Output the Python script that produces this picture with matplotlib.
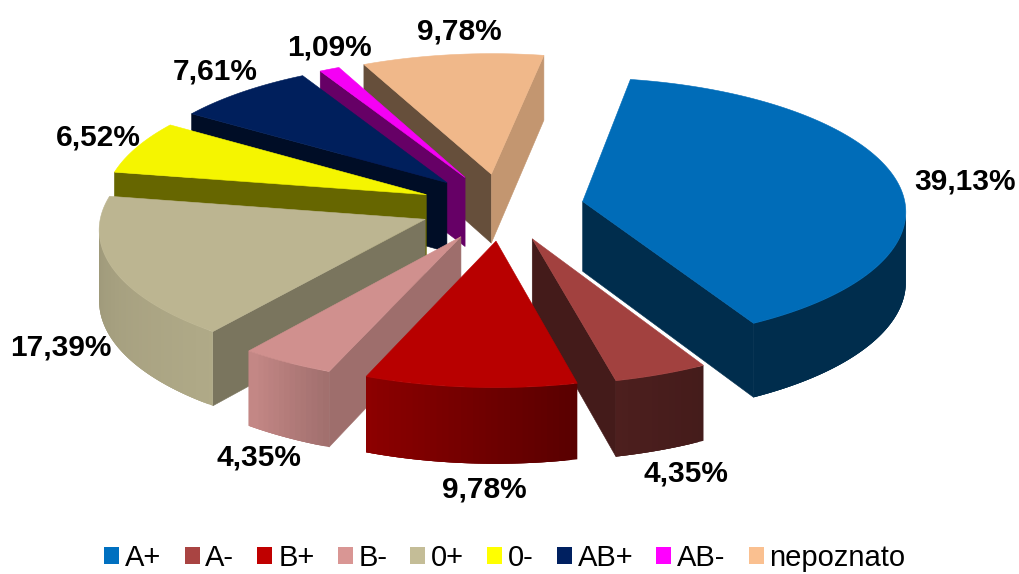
import numpy as np
import matplotlib
matplotlib.use("Agg")
import matplotlib.pyplot as plt
from matplotlib.patches import Patch, Polygon

# Data
groups = ['A+', 'A-', 'B+', 'B-', '0+', '0-', 'AB+', 'AB-', 'nepoznato']
shares = [39.13, 4.35, 9.78, 4.35, 17.39, 6.52, 7.61, 1.09, 9.78]
colors = ['#0070c0', '#a94442', '#c00000', '#d99694', '#c4bd97', '#ffff00', '#002060', '#ff00ff', '#fac090']

# Shading of the flat side faces (start edge, end edge) and of the rim, by angle
start_shade = [0.4, 0.4, 0.4, 0.73, 0.62, 0.4, 0.4, 0.4, 0.41]
end_shade = [0.4, 0.4, 0.4, 0.4, 0.4, 0.4, 0.4, 0.4, 0.78]
rim_angles = [0, 90, 150, 165, 200, 216, 240, 270, 360]
rim_shades = [0.78, 0.4, 0.4, 0.45, 0.72, 0.9, 0.86, 0.8, 0.78]

# Layout in pixels
cx, cy = 502, 207
radius = 323
explode = 82
tilt = 0.41
persp = 0.0002
depth = 70
first_angle = 10
draw_order = [8, 7, 6, 5, 4, 3, 0, 1, 2]
label_pos = [(965, 181), (686, 474), (484, 490), (259, 458), (61, 347),
             (98, 137), (215, 71), (329, 48), (459, 31)]

plt.rcParams['font.family'] = ['Liberation Sans', 'DejaVu Sans']


def project(x, y, down=0.0):
    w = 1 / (1 - persp * y)
    return np.column_stack((cx + x * w, cy + tilt * y * w + down * w))


def shaded(color, factor):
    rgb = np.array(matplotlib.colors.to_rgb(color))
    return tuple(rgb * factor)


def area(pts):
    x, y = pts[:, 0], pts[:, 1]
    return 0.5 * np.sum(x * np.roll(y, -1) - np.roll(x, -1) * y)


def add_quad(ax, pts, color, lw=0.4):
    ax.add_patch(Polygon(pts, closed=True, facecolor=color, edgecolor=color if lw else 'none', lw=lw))


fig = plt.figure(figsize=(10.19, 5.74), dpi=100)
ax = fig.add_axes([0, 0, 1, 1])
ax.set_xlim(0, 1019)
ax.set_ylim(574, 0)
ax.axis('off')

edges = first_angle + np.concatenate(([0], np.cumsum(shares))) * 3.6

for i in draw_order:
    a0, a1 = edges[i], edges[i + 1]
    mid = np.radians((a0 + a1) / 2)
    ox, oy = explode * np.sin(mid), -explode * np.cos(mid)
    th = np.radians(np.linspace(a0, a1, max(int(a1 - a0), 3) + 1))
    rx = ox + radius * np.sin(th)
    ry = oy - radius * np.cos(th)

    top = project(np.r_[ox, rx], np.r_[oy, ry])
    bot = project(np.r_[ox, rx], np.r_[oy, ry], depth)

    # side faces, only the ones turned towards the viewer
    q = np.array([top[0], top[1], bot[1], bot[0]])
    if area(q) < 0:
        add_quad(ax, q, shaded(colors[i], start_shade[i]))
    q = np.array([top[-1], top[0], bot[0], bot[-1]])
    if area(q) < 0:
        add_quad(ax, q, shaded(colors[i], end_shade[i]))

    # rim, each strip runs on under the next one so no seams show
    n = len(top) - 1
    for j in range(1, n):
        k = min(j + 3, n)
        q = np.vstack((top[j:k + 1], bot[j:k + 1][::-1]))
        if area(np.array([top[j], top[j + 1], bot[j + 1], bot[j]])) < 0:
            ang = np.degrees(th[j - 1] + th[j]) / 2 % 360
            add_quad(ax, q, shaded(colors[i], np.interp(ang, rim_angles, rim_shades)), lw=0)

    add_quad(ax, top, shaded(colors[i], 0.96))

for share, pos in zip(shares, label_pos):
    ax.text(pos[0], pos[1], f'{share:.2f}%'.replace('.', ','), ha='center', va='center',
            fontsize=21.5, fontweight='bold', color='black')

handles = [Patch(facecolor=c, edgecolor='none', label=g) for c, g in zip(colors, groups)]
ax.legend(handles=handles, ncol=9, loc='center', bbox_to_anchor=(505 / 1019, 1 - 558 / 574),
          frameon=False, fontsize=21, handlelength=0.514, handleheight=0.514,
          handletextpad=0.2, columnspacing=0.79, borderpad=0, borderaxespad=0)

fig.savefig('out.png', dpi=100)
